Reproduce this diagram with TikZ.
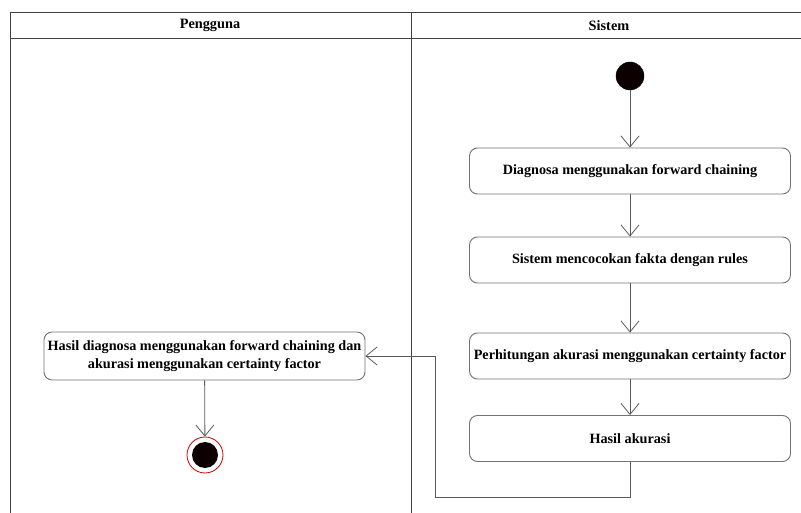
\documentclass[tikz,border=0pt]{standalone}
\usepackage{fontspec}
\setmainfont{Liberation Serif}
\usetikzlibrary{arrows.meta}
\begin{document}
\begin{tikzpicture}[x=1pt,y=-1pt,
  lane/.style={draw=black!75, line width=0.9pt},
  action/.style={draw=black!55, line width=0.9pt, rounded corners=8pt, fill=white,
    minimum width=321pt, minimum height=46pt, inner sep=1pt, align=center,
    font=\fontsize{14.2}{17.5}\selectfont\bfseries},
  flow/.style={draw=black!65, line width=0.8pt,
    -{Straight Barb[length=11pt,width=18pt,line width=0.8pt]}},
  header/.style={font=\fontsize{14.3}{16}\selectfont\bfseries}]
\useasboundingbox (0,0) rectangle (801,513);

% swimlane frame
\draw[lane] (10,513) -- (10,12) -- (801,12);
\draw[lane] (10,38) -- (801,38);
\draw[lane] (411,12) -- (411,513);
\node[header] (hUser) at (210,25.5) {Pengguna};
\node[header] (hSys) at (609,25.5) {Sistem};

% system lane
\node[circle, fill=black!95!red, draw=black, minimum size=28pt, inner sep=0pt] (start) at (630,76) {};
\node[action] (diag) at (630,171) {Diagnosa menggunakan forward chaining};
\node[action] (match) at (630,260) {Sistem mencocokan fakta dengan rules};
\node[action] (calc) at (630,356) {Perhitungan akurasi menggunakan certainty factor};
\node[action] (acc) at (630,438.5) {Hasil akurasi};

% user lane
\node[action, minimum width=321pt, minimum height=48pt] (result) at (204.5,356)
  {Hasil diagnosa menggunakan forward chaining dan\\akurasi menggunakan certainty factor};
\node[circle, draw=red!80!black, line width=0.8pt, minimum size=36pt, inner sep=0pt] (endring) at (205,455) {};
\node[circle, fill=black!95!red, minimum size=26pt, inner sep=0pt] (enddot) at (205,455) {};

% control flow
\draw[flow] (start) -- (diag);
\draw[flow] (diag) -- (match);
\draw[flow] (match) -- (calc);
\draw[flow] (calc) -- (acc);
\coordinate (c1) at (630,497);
\coordinate (c2) at (435,497);
\coordinate (c3) at (435,356);
\draw[flow] (acc.south) -- (c1) -- (c2) -- (c3) -- (result.east);
\draw[flow] (result) -- (endring);
\end{tikzpicture}
\end{document}
